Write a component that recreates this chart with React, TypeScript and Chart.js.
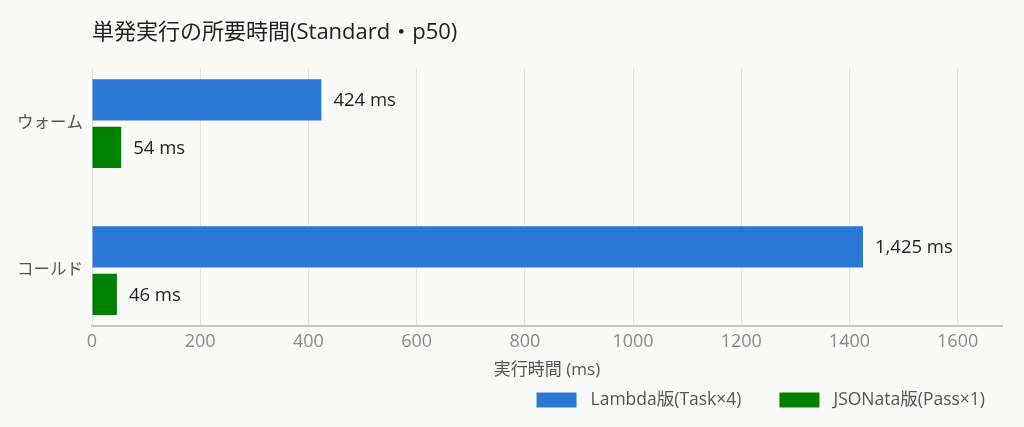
import React, { useEffect, useRef } from "react";
import { Chart, registerables } from "chart.js";

Chart.register(...registerables);

const chartTitle = "単発実行の所要時間(Standard・p50)";
const categories = ["ウォーム", "コールド"];
const seriesLabels = ["Lambda版(Task×4)", "JSONata版(Pass×1)"];
const lambdaValues = [424, 1425];
const jsonataValues = [54, 46];
const seriesColors = ["#2a78d6", "#008000"];
const xAxisTitle = "実行時間 (ms)";
const xMax = 1682;
const xStep = 200;
const valueUnit = " ms";

const FONT = "'Open Sans', 'Noto Sans CJK JP', sans-serif";

const titlePlugin = {
  id: "customTitle",
  afterDraw(chart: any) {
    const ctx = chart.ctx;
    ctx.save();
    ctx.font = `22px ${FONT}`;
    ctx.fillStyle = "#222";
    ctx.textAlign = "left";
    ctx.textBaseline = "middle";
    ctx.fillText(chartTitle, chart.chartArea.left, 33);
    ctx.restore();
  },
};

const valueLabelPlugin = {
  id: "valueLabels",
  afterDatasetsDraw(chart: any) {
    const ctx = chart.ctx;
    ctx.save();
    ctx.font = `18.5px ${FONT}`;
    ctx.fillStyle = "#1e1e1e";
    ctx.textAlign = "left";
    ctx.textBaseline = "middle";
    chart.data.datasets.forEach((ds: any, di: number) => {
      const meta = chart.getDatasetMeta(di);
      meta.data.forEach((bar: any, i: number) => {
        const v = ds.data[i] as number;
        ctx.fillText(v.toLocaleString("en-US") + valueUnit, bar.x + 12, bar.y + 1);
      });
    });
    ctx.restore();
  },
};

const legendPlugin = {
  id: "customLegend",
  afterDraw(chart: any) {
    const ctx = chart.ctx;
    ctx.save();
    ctx.font = `17.5px ${FONT}`;
    ctx.textBaseline = "middle";
    ctx.textAlign = "left";
    const boxW = 40;
    const boxH = 15;
    const gapBoxText = 14;
    const gapItems = 38;
    const cy = 400;
    const widths = chart.data.datasets.map((ds: any) => ctx.measureText(ds.label).width);
    let total = 0;
    widths.forEach((w: number, i: number) => {
      total += boxW + gapBoxText + w + (i > 0 ? gapItems : 0);
    });
    let x = 985 - total;
    chart.data.datasets.forEach((ds: any, i: number) => {
      ctx.fillStyle = ds.backgroundColor;
      ctx.fillRect(x, cy - boxH / 2, boxW, boxH);
      x += boxW + gapBoxText;
      ctx.fillStyle = "#555";
      ctx.fillText(ds.label, x, cy);
      x += widths[i] + gapItems;
    });
    ctx.restore();
  },
};

export default function App() {
  const canvasRef = useRef<HTMLCanvasElement | null>(null);

  useEffect(() => {
    const canvas = canvasRef.current;
    if (!canvas) return;
    const chart = new Chart(canvas, {
      type: "bar",
      data: {
        labels: categories,
        datasets: [
          {
            label: seriesLabels[0],
            data: lambdaValues,
            backgroundColor: seriesColors[0],
            categoryPercentage: 0.646,
            barPercentage: 0.868,
          },
          {
            label: seriesLabels[1],
            data: jsonataValues,
            backgroundColor: seriesColors[1],
            categoryPercentage: 0.646,
            barPercentage: 0.868,
          },
        ],
      },
      options: {
        indexAxis: "y",
        responsive: false,
        animation: false,
        layout: { padding: { top: 68, right: 22, bottom: 0, left: 0 } },
        plugins: {
          legend: { display: false },
          title: { display: false },
          tooltip: { enabled: false },
        },
        scales: {
          x: {
            type: "linear",
            min: 0,
            max: xMax,
            border: { display: true, color: "#c9c9c5", width: 2 },
            grid: { color: "#e3e3e0", lineWidth: 1, drawTicks: false },
            ticks: {
              stepSize: xStep,
              includeBounds: false,
              color: "#8a8a8a",
              padding: 5,
              font: { family: FONT, size: 18 },
              callback: (v: any) => String(v),
            },
            title: {
              display: true,
              text: xAxisTitle,
              color: "#555",
              font: { family: FONT, size: 17 },
              padding: { top: 4, bottom: 47 },
            },
            afterFit: (scale: any) => {
              scale.height = 101;
            },
          },
          y: {
            type: "category",
            border: { display: false },
            grid: { display: false, drawTicks: false },
            ticks: {
              color: "#555",
              padding: 9,
              font: { family: FONT, size: 16.5 },
            },
            afterFit: (scale: any) => {
              scale.width = 92;
            },
            afterBuildTicks: (scale: any) => {
              scale._startValue = -0.379;
              scale._valueRange = 1.755;
            },
          },
        },
      },
      plugins: [titlePlugin, valueLabelPlugin, legendPlugin],
    });
    const fonts = (document as any).fonts;
    if (fonts && fonts.load) {
      Promise.all([
        fonts.load(`18px 'Open Sans'`),
        fonts.load(`18px 'Noto Sans CJK JP'`, "実行時間"),
      ])
        .then(() => chart.update())
        .catch(() => {});
    }
    return () => {
      chart.destroy();
    };
  }, []);

  return (
    <div
      style={{
        position: "fixed",
        left: 0,
        top: 0,
        width: 1024,
        height: 427,
        background: "#fafaf9",
      }}
    >
      <canvas ref={canvasRef} width={1024} height={427} style={{ display: "block" }} />
    </div>
  );
}
